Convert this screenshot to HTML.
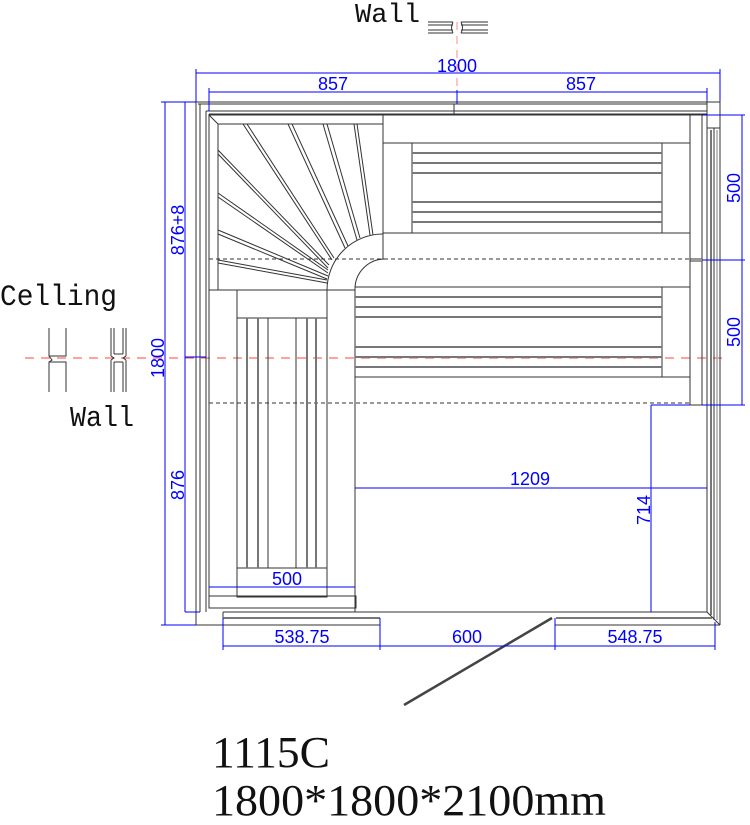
<!DOCTYPE html>
<html><head><meta charset="utf-8"><style>
html,body{margin:0;padding:0;background:#fff;width:750px;height:825px;overflow:hidden}
svg{display:block}
.k{stroke:#333;stroke-width:1;fill:none}
.g{stroke:#777;stroke-width:2;fill:none}
.b{stroke:#00f;stroke-width:1;fill:none}
.bt{fill:#00f;font-family:"Liberation Sans",sans-serif;font-size:18px}
.m{font-family:"Liberation Mono",monospace;fill:#111}
</style></head><body>
<svg width="750" height="825" viewBox="0 0 750 825" xmlns="http://www.w3.org/2000/svg">
<line x1="25" y1="358" x2="722" y2="358" stroke="#f44" stroke-dasharray="9,7"/>
<line x1="457" y1="22" x2="457" y2="95" stroke="#f88" stroke-dasharray="8,6"/>

<g class="k">
<line x1="196" y1="102" x2="720" y2="102"/><line x1="198" y1="104" x2="707" y2="104"/>
<line x1="206" y1="111" x2="707" y2="111"/><line x1="209" y1="114" x2="707" y2="114"/>
<line x1="196" y1="102" x2="196" y2="625"/><line x1="200" y1="104" x2="200" y2="612"/>
<line x1="206" y1="111" x2="206" y2="612"/><line x1="209" y1="114" x2="209" y2="608"/>
<line x1="707" y1="100" x2="707" y2="612"/><line x1="714" y1="128" x2="714" y2="620"/>
<line x1="720" y1="100" x2="720" y2="625"/><line x1="707" y1="128" x2="720" y2="128"/>
<line x1="454" y1="104" x2="454" y2="114"/>
</g>
<line x1="711" y1="130" x2="711" y2="615" class="g"/>
<line x1="717" y1="130" x2="717" y2="620" stroke="#aaa" stroke-width="1.5"/>

<g class="k">
<line x1="209" y1="115" x2="383" y2="115"/><line x1="218" y1="124" x2="383" y2="124"/>
<line x1="209" y1="115" x2="218" y2="124"/>
<line x1="218" y1="124" x2="218" y2="290"/>
<line x1="383" y1="115" x2="383" y2="233"/>
<line x1="209" y1="290" x2="327" y2="290"/>
<path d="M327,290 A56,56 0 0 1 383,234"/>
<line x1="237" y1="290" x2="237" y2="597"/>
<line x1="243" y1="124" x2="332" y2="260"/><line x1="247" y1="124" x2="334" y2="258"/>
<line x1="288" y1="124" x2="345" y2="248"/><line x1="292" y1="124" x2="348" y2="246"/>
<line x1="323" y1="124" x2="357" y2="240"/><line x1="327" y1="124" x2="360" y2="238"/>
<line x1="354" y1="124" x2="370" y2="235"/><line x1="357" y1="124" x2="373" y2="235"/>
<line x1="218" y1="150" x2="329" y2="265"/><line x1="218" y1="154" x2="328" y2="268"/>
<line x1="218" y1="193" x2="328" y2="270"/><line x1="218" y1="197" x2="328" y2="273"/>
<line x1="218" y1="230" x2="328" y2="276"/><line x1="218" y1="234" x2="327" y2="279"/>
<line x1="218" y1="260" x2="327" y2="280"/><line x1="218" y1="263" x2="327" y2="283"/>
</g>
<line x1="209" y1="259" x2="690" y2="259" stroke="#333" stroke-dasharray="4,3"/>
<line x1="209" y1="403" x2="690" y2="403" stroke="#333" stroke-dasharray="4,3"/>

<g class="k">
<rect x="383" y="115" width="307" height="28"/>
<line x1="383" y1="143" x2="383" y2="259"/>
<line x1="412" y1="143" x2="412" y2="233"/>
<line x1="662" y1="143" x2="662" y2="233"/>
<line x1="383" y1="233" x2="690" y2="233"/>
<line x1="690" y1="115" x2="690" y2="259"/>
<rect x="690" y="115" width="12" height="144"/>
<rect x="690" y="261" width="12" height="144"/>
</g>
<g class="g">
<line x1="412" y1="153" x2="662" y2="153"/><line x1="412" y1="163" x2="662" y2="163"/><line x1="412" y1="173" x2="662" y2="173"/>
<line x1="412" y1="202" x2="662" y2="202"/><line x1="412" y1="212" x2="662" y2="212"/><line x1="412" y1="222" x2="662" y2="222"/>
</g>

<g class="k">
<path d="M355,612 L355,289 A30,30 0 0 1 385,259"/>
<line x1="355" y1="287" x2="690" y2="287"/>
<line x1="662" y1="287" x2="662" y2="377"/>
<line x1="355" y1="377" x2="690" y2="377"/>
<line x1="690" y1="259" x2="690" y2="405"/>
</g>
<g class="g">
<line x1="355" y1="297" x2="662" y2="297"/><line x1="355" y1="307" x2="662" y2="307"/><line x1="355" y1="317" x2="662" y2="317"/>
<line x1="355" y1="347" x2="662" y2="347"/><line x1="355" y1="357" x2="662" y2="357"/><line x1="355" y1="367" x2="662" y2="367"/>
</g>

<g class="k">
<line x1="209" y1="290" x2="355" y2="290"/>
<rect x="237" y="290" width="90" height="307"/>
<line x1="237" y1="318" x2="327" y2="318"/><line x1="237" y1="568" x2="327" y2="568"/>
<line x1="296" y1="318" x2="296" y2="568"/>
<line x1="268" y1="318" x2="268" y2="568"/>
<rect x="209" y="596" width="147" height="12"/>
</g>
<g class="g">
<line x1="247" y1="318" x2="247" y2="568"/><line x1="258" y1="318" x2="258" y2="568"/>
<line x1="307" y1="318" x2="307" y2="568"/><line x1="316" y1="318" x2="316" y2="568"/>
</g>

<g class="k">
<line x1="223" y1="612" x2="707" y2="612"/>
<line x1="196" y1="625" x2="380" y2="625"/>
<line x1="223" y1="612" x2="223" y2="625"/>
<line x1="555" y1="625" x2="720" y2="625"/>
<line x1="707" y1="612" x2="720" y2="625"/>
</g>
<line x1="223" y1="618" x2="380" y2="618" class="g"/>
<line x1="556" y1="618" x2="712" y2="618" class="g"/>
<line x1="404" y1="705" x2="552" y2="618" stroke="#444" stroke-width="2.5"/>

<g class="b">
<line x1="196" y1="73" x2="720" y2="73"/><line x1="196" y1="69" x2="196" y2="102"/><line x1="720" y1="69" x2="720" y2="100"/>
<line x1="209" y1="92" x2="707" y2="92"/><line x1="209" y1="88" x2="209" y2="111"/><line x1="707" y1="88" x2="707" y2="100"/>
<line x1="457" y1="90" x2="457" y2="104"/>
<line x1="165" y1="102" x2="165" y2="625"/><line x1="185" y1="102" x2="185" y2="612"/>
<line x1="161" y1="102" x2="196" y2="102"/><line x1="161" y1="625" x2="196" y2="625"/><line x1="185" y1="612" x2="200" y2="612"/>
<line x1="185" y1="357" x2="206" y2="357"/>
<line x1="742" y1="115" x2="742" y2="405"/><line x1="702" y1="115" x2="745" y2="115"/>
<line x1="702" y1="260" x2="745" y2="260"/><line x1="702" y1="405" x2="745" y2="405"/>
<line x1="355" y1="488" x2="707" y2="488"/>
<line x1="651" y1="405" x2="651" y2="612"/><line x1="651" y1="405" x2="690" y2="405"/>
<line x1="209" y1="587" x2="355" y2="587"/>
<line x1="223" y1="646" x2="715" y2="646"/>
<line x1="223" y1="618" x2="223" y2="650"/><line x1="380" y1="618" x2="380" y2="650"/>
<line x1="555" y1="618" x2="555" y2="650"/><line x1="715" y1="622" x2="715" y2="650"/>
</g>
<g class="bt">
<text x="457" y="72" text-anchor="middle">1800</text>
<text x="333" y="90" text-anchor="middle">857</text>
<text x="581" y="90" text-anchor="middle">857</text>
<text x="530" y="485" text-anchor="middle">1209</text>
<text x="287" y="585" text-anchor="middle">500</text>
<text x="302" y="643" text-anchor="middle">538.75</text>
<text x="467" y="643" text-anchor="middle">600</text>
<text x="635" y="643" text-anchor="middle">548.75</text>
<text transform="translate(184,230) rotate(-90)" text-anchor="middle">876+8</text>
<text transform="translate(184,485) rotate(-90)" text-anchor="middle">876</text>
<text transform="translate(164,358) rotate(-90)" text-anchor="middle">1800</text>
<text transform="translate(740,188) rotate(-90)" text-anchor="middle">500</text>
<text transform="translate(740,332) rotate(-90)" text-anchor="middle">500</text>
<text transform="translate(650,510) rotate(-90)" text-anchor="middle">714</text>
</g>

<g class="k">
<path d="M428,22 H453 M428,25 H453 M428,30 H453 M428,33 H453 M461,22 H488 M461,25 H488 M461,30 H488 M461,33 H488"/>
<path d="M453,22 Q450,28 453,33 M461,22 Q464,28 461,33"/>
<path d="M49,328 V356 L66,356 V328 M49,392 V362 L66,362 V392 M49,356 L52,360 L49,362"/>
<path d="M111,328 V356 M114,328 V354 M123,328 V354 M126,328 V356 M111,392 V360 M114,392 V362 M123,392 V362 M126,392 V360 M114,354 L123,354 M114,362 L123,362 M111,356 L114,358 L111,360 M126,356 L123,358 L126,360"/>
</g>

<text x="355" y="22" class="m" font-size="27" textLength="65" lengthAdjust="spacingAndGlyphs">Wall</text>
<text x="0" y="305" class="m" font-size="30" textLength="117" lengthAdjust="spacingAndGlyphs">Celling</text>
<text x="70" y="426" class="m" font-size="29" textLength="64" lengthAdjust="spacingAndGlyphs">Wall</text>
<text x="212" y="767" font-family="Liberation Serif,serif" font-size="44" textLength="118" lengthAdjust="spacingAndGlyphs" fill="#111">1115C</text>
<text x="212" y="815" font-family="Liberation Serif,serif" font-size="44" textLength="394" lengthAdjust="spacingAndGlyphs" fill="#111">1800*1800*2100mm</text>
</svg>
</body></html>
